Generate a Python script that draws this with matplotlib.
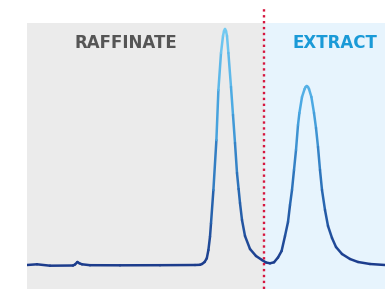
import numpy as np
import matplotlib
matplotlib.use("Agg")
import matplotlib.pyplot as plt
from matplotlib.collections import LineCollection
from matplotlib.colors import LinearSegmentedColormap

# chromatogram: time (min), signal (mAU above baseline)
time = [0.0, 0.5, 1.15, 2.3, 2.4, 2.52, 2.62, 2.75, 3.15, 4.65, 6.65, 8.4, 8.65,
        8.75, 8.88, 8.99, 9.07, 9.15, 9.2, 9.32, 9.47, 9.57, 9.7, 9.8, 9.85,
        9.9, 9.95, 10.0, 10.07, 10.2, 10.3, 10.4, 10.5, 10.58, 10.65, 10.75,
        10.9, 11.15, 11.45, 11.75, 11.95, 12.15, 12.35, 12.55, 12.73, 12.9,
        13.05, 13.15, 13.25, 13.35, 13.45, 13.55, 13.62, 13.75, 13.88, 13.93,
        13.99, 14.05, 14.1, 14.22, 14.35, 14.45, 14.55, 14.65, 14.75, 14.9,
        15.05, 15.25, 15.45, 15.75, 16.15, 16.55, 17.15, 17.9]
signal = [0, 0.7, -0.7, -0.5, 0.5, 3, 1.7, 0.7, -0.2, -0.3, -0.2, 0, 0.2,
          1, 3, 6.7, 15, 28.3, 41.7, 75, 125, 175, 212, 229, 234,
          236, 234, 229, 212, 178, 150, 122, 92, 76, 62, 45,
          29, 16, 9, 5, 2.5, 1.7, 2.7, 7.5, 14, 29,
          43, 60, 75, 95, 115, 140, 152, 168, 176, 178,
          179, 178, 176, 168, 152, 137, 118, 95, 75, 55,
          39, 27, 18, 11, 6, 3, 1, 0]

switch_time = 11.85          # raffinate / extract cut
labels = ["RAFFINATE", "EXTRACT"]
label_colors = ["#555555", "#1a9ad7"]
label_times = [4.95, 15.4]


def main():
    fig = plt.figure(figsize=(3.85, 2.89), dpi=100)
    ax = fig.add_axes([27 / 385, 0, 358 / 385, 266 / 289])
    t_max = time[-1]
    ax.set_xlim(0, t_max)
    ax.set_ylim(-24, 242)
    ax.axis("off")

    ax.axvspan(0, switch_time, color="#ebebeb", lw=0, zorder=0)
    ax.axvspan(switch_time, t_max, color="#e7f4fd", lw=0, zorder=0)

    # gradient line: navy at the baseline, sky blue at the peak tops
    pts = np.column_stack([time, signal]).reshape(-1, 1, 2)
    segs = np.concatenate([pts[:-1], pts[1:]], axis=1)
    cmap = LinearSegmentedColormap.from_list(
        "peak", ["#1c3c8c", "#2a6fb8", "#4aa8e2", "#74cbf2"])
    lc = LineCollection(segs, cmap=cmap, lw=1.8, capstyle="round",
                        joinstyle="round", zorder=3)
    lc.set_array(segs[:, :, 1].mean(axis=1))
    lc.set_clim(0, 236)
    ax.add_collection(lc)

    ax.plot([switch_time, switch_time], [-24, 257], color="#d6163f",
            lw=1.7, ls=(0, (1, 1.5)), clip_on=False, zorder=4)

    for lab, col, t in zip(labels, label_colors, label_times):
        ax.text(t, 222, lab, color=col, fontsize=12, fontweight="bold",
                ha="center", va="center", family="DejaVu Sans")

    fig.savefig("out.png", dpi=100)


if __name__ == "__main__":
    main()
